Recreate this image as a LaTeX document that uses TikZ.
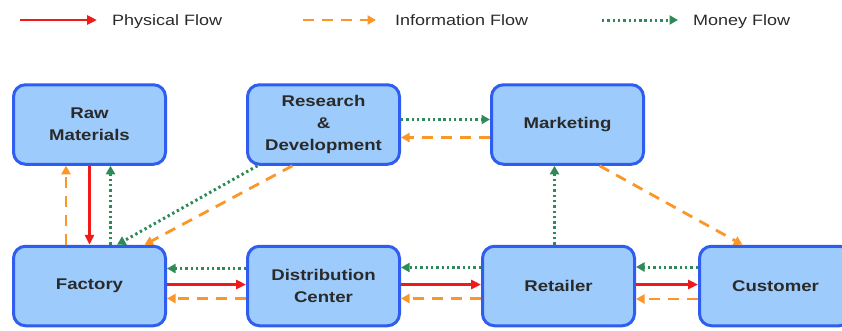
\documentclass[tikz,border=0pt]{standalone}
\usepackage{fontspec}
\setmainfont{Liberation Sans}[FakeStretch=1.2]
\usepackage{xcolor}
\usetikzlibrary{positioning,arrows.meta}

\definecolor{boxfill}{HTML}{9DCBFB}
\definecolor{boxline}{HTML}{2F5DF0}
\definecolor{physred}{HTML}{F01A1A}
\definecolor{infoorange}{HTML}{FB9628}
\definecolor{moneygreen}{HTML}{2E8B57}
\definecolor{labelgray}{HTML}{2A2A2A}

\begin{document}
\begin{tikzpicture}[x=1pt,y=-1pt,
    box/.style={draw=boxline, fill=boxfill, line width=3pt, rounded corners=12pt,
      minimum width=152pt, minimum height=79.5pt, align=center, text=labelgray,
      font=\fontsize{15.5}{22}\selectfont\bfseries},
    legend/.style={inner sep=0pt, text=labelgray, font=\fontsize{15}{18}\selectfont},
    physical/.style={draw=physred, line width=2.8pt, -{Triangle[length=10pt,width=9pt]}},
    information/.style={draw=infoorange, line width=2.8pt, dash pattern=on 11pt off 8pt,
      -{Triangle[length=8.5pt,width=9pt]}},
    money/.style={draw=moneygreen, line width=3pt, dash pattern=on 2.4pt off 2.9pt,
      -{Triangle[length=8.5pt,width=9pt]}}]
  \useasboundingbox (0,0) rectangle (842,330);

  % legend
  \coordinate (physA) at (20,20);
  \coordinate (physB) at (97,20);
  \node (physlabel) [legend, anchor=base west] at (112,25.5) {Physical Flow};
  \coordinate (infoA) at (303,20);
  \coordinate (infoB) at (376,20);
  \node (infolabel) [legend, anchor=base west] at (395,25.5) {Information Flow};
  \coordinate (moneyA) at (602,20);
  \coordinate (moneyB) at (678,20);
  \node (moneylabel) [legend, anchor=base west] at (693,25.5) {Money Flow};
  \draw[physical] (physA) -- (physB);
  \draw[information] (infoA) -- (infoB);
  \draw[money] (moneyA) -- (moneyB);

  % boxes
  \node (raw) [box] at (89.5,124.5) {Raw\\Materials};
  \node (rd) [box, right=79pt of raw] {Research\\\&\\Development};
  \node (mkt) [box, right=89pt of rd] {Marketing};
  \node (fac) [box, below=79pt of raw] {Factory};
  \node (dc) [box, right=79pt of fac] {Distribution\\Center};
  \node (ret) [box, right=80pt of dc] {Retailer};
  \node (cus) [box, right=62pt of ret] {Customer};

  % raw materials and factory
  \draw[physical] (raw.south) -- (fac.north);
  \draw[information] ([xshift=-23.5pt]fac.north) -- ([xshift=-23.5pt]raw.south);
  \draw[money] ([xshift=21pt]fac.north) -- ([xshift=21pt]raw.south);

  % research and development
  \draw[money] ([xshift=-66pt]rd.south) -- ([xshift=27.5pt]fac.north);
  \draw[information] ([xshift=-31pt]rd.south) -- ([xshift=55pt]fac.north);
  \draw[money] ([yshift=5pt]rd.east) -- ([yshift=5pt]mkt.west);
  \draw[information] ([yshift=-13pt]mkt.west) -- ([yshift=-13pt]rd.east);

  % marketing
  \draw[money] ([xshift=-4pt]ret.north) -- ([xshift=-4pt]ret.north |- mkt.south);
  \draw[information] ([xshift=32pt]mkt.south) -- ([xshift=-33pt]cus.north);

  % along the chain
  \draw[money] ([yshift=17.5pt]dc.west) -- ([yshift=17.5pt]fac.east);
  \draw[physical] ([yshift=1.5pt]fac.east) -- ([yshift=1.5pt]dc.west);
  \draw[information] ([yshift=-12.5pt]dc.west) -- ([yshift=-12.5pt]fac.east);

  \draw[money] ([yshift=18.5pt]ret.west) -- ([yshift=18.5pt]dc.east);
  \draw[physical] ([yshift=1.5pt]dc.east) -- ([yshift=1.5pt]ret.west);
  \draw[information] ([yshift=-12.5pt]ret.west) -- ([yshift=-12.5pt]dc.east);

  \draw[money] ([yshift=19pt]cus.west) -- ([yshift=19pt]ret.east);
  \draw[physical] ([yshift=1.5pt]ret.east) -- ([yshift=1.5pt]cus.west);
  \draw[information] ([yshift=-13pt]cus.west) -- ([yshift=-13pt]ret.east);
\end{tikzpicture}
\end{document}
